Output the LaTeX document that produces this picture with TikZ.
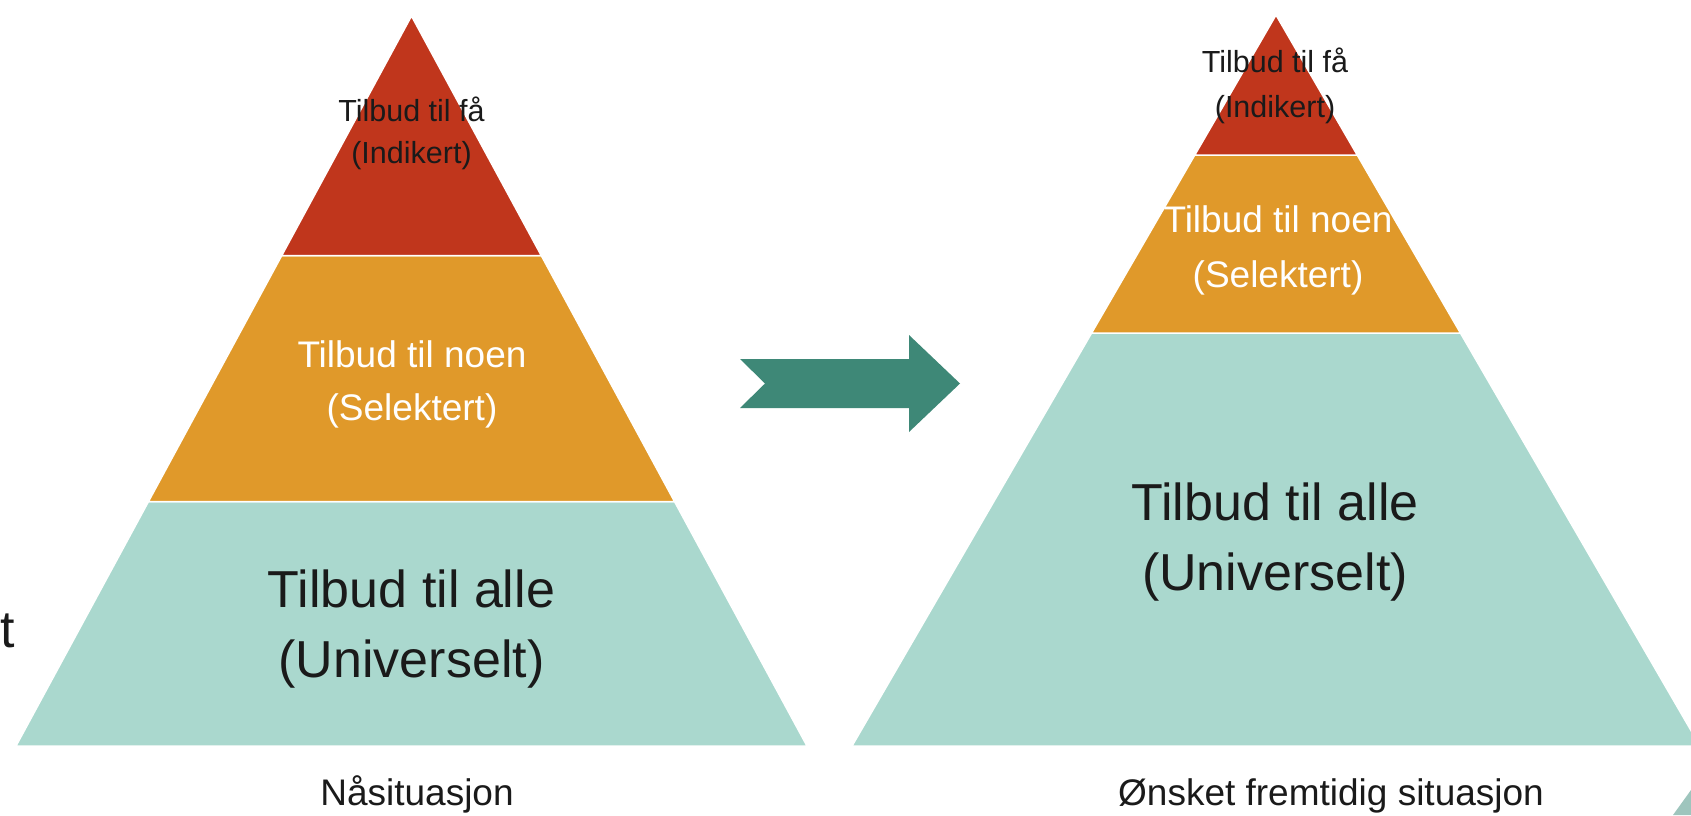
\documentclass[tikz,border=0pt]{standalone}
\usepackage{fontspec}
\setmainfont{Liberation Sans}
\definecolor{pyrred}{HTML}{C0361C}
\definecolor{pyrorange}{HTML}{E0992A}
\definecolor{pyrteal}{HTML}{AAD8CE}
\definecolor{arrowgreen}{HTML}{3E8877}
\definecolor{darktext}{HTML}{1A1A1A}
\begin{document}
\begin{tikzpicture}[x=1pt,y=-1pt,
  band/.style={draw=white,line width=1.5pt,line join=miter},
  lbl/.style={anchor=base,inner sep=0pt,outer sep=0pt},
  small/.style={lbl,font=\fontsize{30.5}{36}\selectfont,text=darktext},
  mid/.style={lbl,font=\fontsize{37}{44}\selectfont,text=white},
  big/.style={lbl,font=\fontsize{52}{62}\selectfont,text=darktext},
  caption/.style={lbl,font=\fontsize{37}{44}\selectfont,text=darktext}]
\useasboundingbox (0,0) rectangle (1691,815);
\fill[white] (0,0) rectangle (1691,815);
% left pyramid
\path[band,fill=pyrteal] (16,746) -- (148.5,501.5) -- (674.5,501.5) -- (807,746) -- cycle;
\path[band,fill=pyrorange] (148.5,501.5) -- (281.7,255.6) -- (541.3,255.6) -- (674.5,501.5) -- cycle;
\path[band,fill=pyrred] (281.7,255.6) -- (411.5,16) -- (541.3,255.6) -- cycle;
% right pyramid
\path[band,fill=pyrteal] (852,746) -- (1091.6,333) -- (1460.4,333) -- (1700,746) -- cycle;
\path[band,fill=pyrorange] (1091.6,333) -- (1194.8,155) -- (1357.2,155) -- (1460.4,333) -- cycle;
\path[band,fill=pyrred] (1194.8,155) -- (1276,15) -- (1357.2,155) -- cycle;
% sliver at bottom right
\fill[pyrteal!90!black!95] (1673,815) -- (1691,790) -- (1691,815) -- cycle;
% arrow
\fill[arrowgreen] (740,359) -- (909,359) -- (909,335) -- (960,383.5) -- (909,432) -- (909,408) -- (740,408) -- (765,383.5) -- cycle;
% left texts
\node[small] (lfa1) at (411.5,121) {Tilbud til få};
\node[small] (lfa2) at (411.5,163) {(Indikert)};
\node[mid] (lno1) at (412,367) {Tilbud til noen};
\node[mid] (lno2) at (412,420) {(Selektert)};
\node[big] (lal1) at (411.5,607) {Tilbud til alle};
\node[big] (lal2) at (411.5,677) {(Universelt)};
% right texts
\node[small] (rfa1) at (1275,72) {Tilbud til få};
\node[small] (rfa2) at (1275,117) {(Indikert)};
\node[mid] (rno1) at (1278,232) {Tilbud til noen};
\node[mid] (rno2) at (1278,287) {(Selektert)};
\node[big] (ral1) at (1275,520) {Tilbud til alle};
\node[big] (ral2) at (1275,590) {(Universelt)};
% captions
\node[caption] (cap1) at (417,805) {Nåsituasjon};
\node[caption] (cap2) at (1331,805) {Ønsket fremtidig situasjon};
% cut-off letter at left edge
\node[big,anchor=base east] (tcut) at (15,647) {t};
\end{tikzpicture}
\end{document}
